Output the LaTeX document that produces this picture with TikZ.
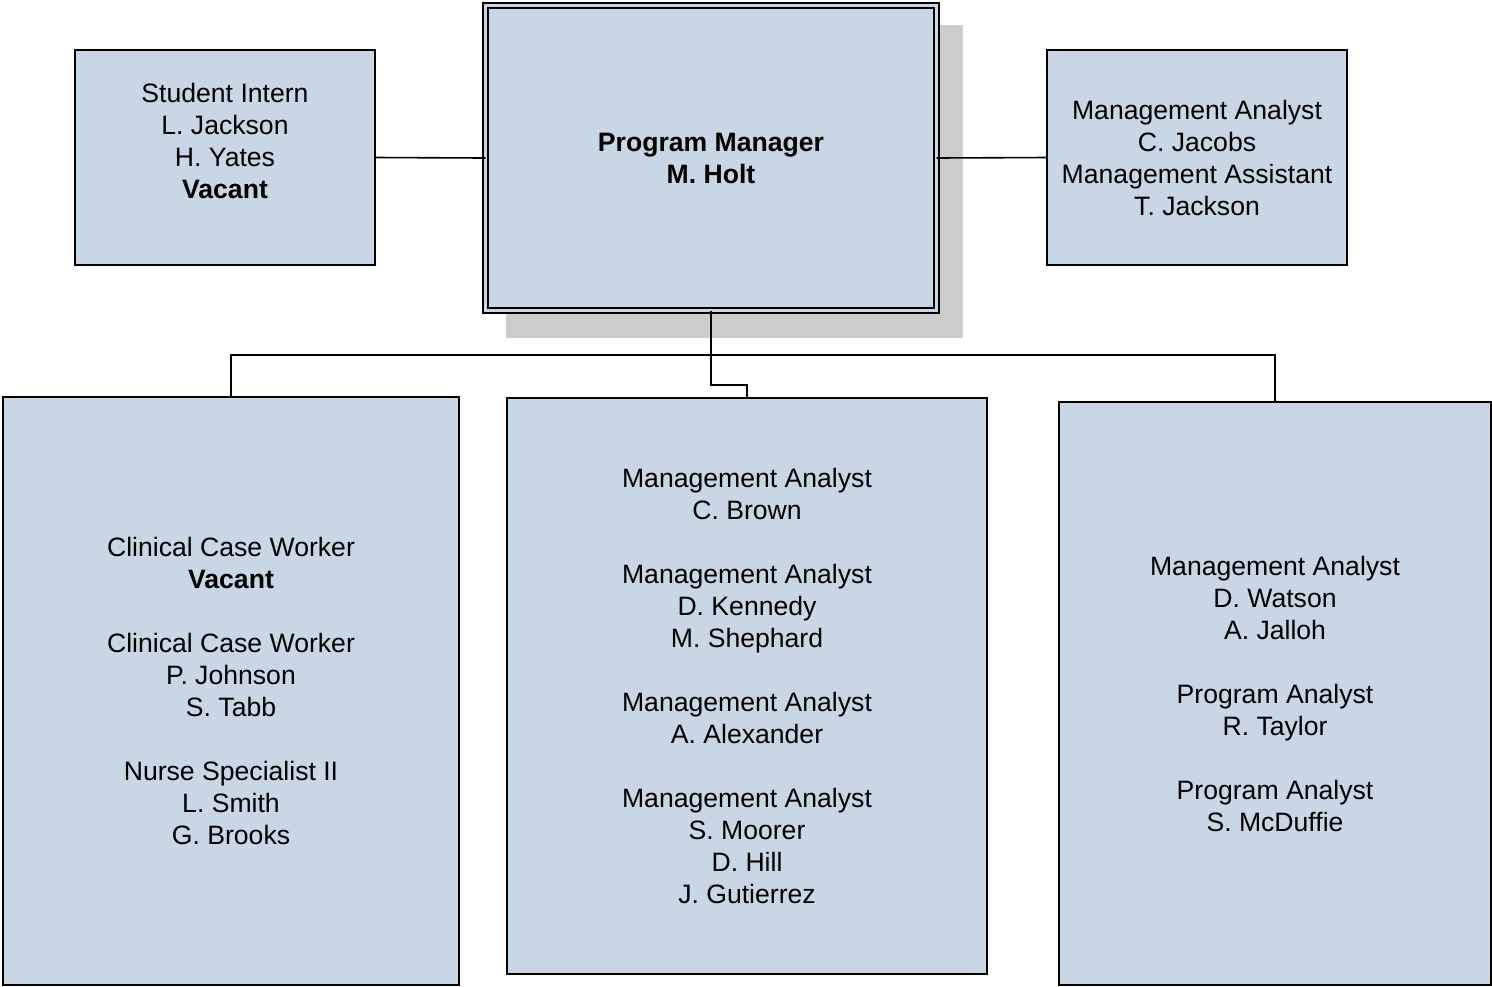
\documentclass[tikz,border=0pt]{standalone}
\usepackage{fontspec}
\setmainfont{Liberation Sans}
\definecolor{boxfill}{HTML}{C9D6E5}
\definecolor{shadowgray}{HTML}{CCCCCC}
\begin{document}
\begin{tikzpicture}[x=0.5pt,y=-0.5pt,
  every node/.style={font=\fontsize{13.3pt}{16pt}\selectfont, align=center},
  orgbox/.style={draw=black, fill=boxfill, line width=1pt, inner sep=0pt, outer sep=0pt},
  conn/.style={draw=black, line width=0.8pt}]
\useasboundingbox (0,0) rectangle (1492,986);
% shadow of the manager box
\fill[shadowgray] (506,25) rectangle (963,338);
% boxes
\node[orgbox, minimum width=150pt, minimum height=107.5pt] (si) at (225,157.5) {};
\node (sitext) at (225,141) {Student Intern\\L. Jackson\\H. Yates\\\textbf{Vacant}};
\node[orgbox, line width=0.75pt, double=boxfill, double distance=1.75pt, minimum width=225.5pt, minimum height=152.5pt] (pm) at (711,158) {\textbf{Program Manager}\\\textbf{M. Holt}};
\node[orgbox, minimum width=150pt, minimum height=107.5pt] (ma) at (1197,157.5) {Management Analyst\\C. Jacobs\\Management Assistant\\T. Jackson};
\node[orgbox, minimum width=228pt, minimum height=294pt] (cl) at (231,691) {Clinical Case Worker\\\textbf{Vacant}\\[16pt]Clinical Case Worker\\P. Johnson\\S. Tabb\\[16pt]Nurse Specialist II\\L. Smith\\G. Brooks};
\node[orgbox, minimum width=240pt, minimum height=288pt] (mid) at (747,686) {Management Analyst\\C. Brown\\[16pt]Management Analyst\\D. Kennedy\\M. Shephard\\[16pt]Management Analyst\\A. Alexander\\[16pt]Management Analyst\\S. Moorer\\D. Hill\\J. Gutierrez};
\node[orgbox, minimum width=216pt, minimum height=291.5pt] (pr) at (1275,693.5) {Management Analyst\\D. Watson\\A. Jalloh\\[16pt]Program Analyst\\R. Taylor\\[16pt]Program Analyst\\S. McDuffie};
% connectors
\draw[conn] (si.east) -- (pm.west);
\draw[conn] (pm.east) -- (ma.west);
\coordinate (j) at (711,355);
\coordinate (k) at (711,385);
\draw[conn] (pm.south) -- (j);
\draw[conn] (j) -| (cl.north);
\draw[conn] (j) -| (pr.north);
\draw[conn] (j) -- (k) -| (mid.north);
\end{tikzpicture}
\end{document}
